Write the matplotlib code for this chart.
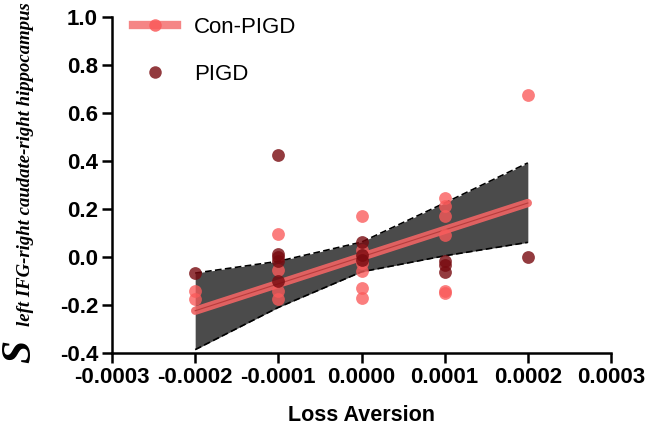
import matplotlib
matplotlib.use('Agg')
import matplotlib.pyplot as plt
from matplotlib.lines import Line2D
from matplotlib.ticker import FormatStrFormatter, MultipleLocator

plt.rcParams['font.family'] = ['Liberation Sans', 'DejaVu Sans']
plt.rcParams['axes.unicode_minus'] = False

# Con-PIGD points (Loss Aversion, S)
con_x = [-0.0002, -0.0002,
         -0.0001, -0.0001, -0.0001, -0.0001,
         0.0, 0.0, 0.0, 0.0, 0.0, 0.0,
         0.0001, 0.0001, 0.0001, 0.0001, 0.0001, 0.0001,
         0.0002]
con_y = [-0.140, -0.174,
         0.097, -0.053, -0.143, -0.174,
         0.170, 0.030, -0.025, -0.057, -0.129, -0.171,
         0.246, 0.211, 0.170, 0.090, -0.140, -0.150,
         0.675]

# PIGD points
pigd_x = [-0.0002,
          -0.0001, -0.0001, -0.0001, -0.0001, -0.0001,
          0.0, 0.0, 0.0,
          0.0001, 0.0001, 0.0001,
          0.0002]
pigd_y = [-0.067,
          0.424, 0.0125, -0.001, -0.017, -0.100,
          0.062, 0.010, -0.011,
          -0.015, -0.035, -0.062,
          0.000]

# regression line and 95% band
fit_x = [-0.0002, 0.0002]
fit_y = [-0.224, 0.225]
band_x = [-0.0002, -0.0001, 0.0, 0.0001, 0.0002]
band_upper = [-0.067, -0.018, 0.062, 0.225, 0.392]
band_lower = [-0.386, -0.210, -0.062, 0.005, 0.061]

pink = '#fa5a5a'
dark = '#780a0f'

fig = plt.figure(figsize=(6.47, 4.38), dpi=100)
ax = fig.add_axes([112 / 647, 85 / 438, 499 / 647, 336 / 438])

ax.fill_between(band_x, band_lower, band_upper, color='#4b4b4b', lw=0, zorder=1)
ax.plot(band_x, band_upper, color='black', lw=1.2, ls=(0, (4, 2)), zorder=2)
ax.plot(band_x, band_lower, color='black', lw=1.2, ls=(0, (4, 2)), zorder=2)

ax.plot(fit_x, fit_y, color='#f06464', lw=6, alpha=0.9, solid_capstyle='round', zorder=3)
ax.plot(fit_x, fit_y, color='#b83c3c', lw=0.8, zorder=3)

ax.scatter(con_x, con_y, s=85, color=pink, alpha=0.78, lw=0, zorder=4)
ax.scatter(pigd_x, pigd_y, s=85, color=dark, alpha=0.8, lw=0, zorder=5)

ax.set_xlim(-0.0003, 0.0003)
ax.set_ylim(-0.4, 1.0)
ax.xaxis.set_major_locator(MultipleLocator(0.0001))
ax.yaxis.set_major_locator(MultipleLocator(0.2))
ax.xaxis.set_major_formatter(FormatStrFormatter('%.4f'))
ax.yaxis.set_major_formatter(FormatStrFormatter('%.1f'))

for side in ['top', 'right']:
    ax.spines[side].set_visible(False)
for side in ['left', 'bottom']:
    ax.spines[side].set_linewidth(1.8)
ax.tick_params(width=1.8, length=7, direction='out', labelsize=16, pad=3)
for lab in ax.get_xticklabels() + ax.get_yticklabels():
    lab.set_fontweight('bold')

ax.set_xlabel('Loss Aversion', fontsize=15.5, fontweight='bold', labelpad=12)

# y label: big italic S with long italic subscript
fig.text(20 / 647, 1 - 351 / 438, 'S', rotation=90, fontsize=30, fontstyle='italic',
         fontweight='bold', family='Liberation Serif', ha='center', va='center')
fig.text(26 / 647, 1 - 164 / 438, 'left IFG-right caudate-right hippocampus', rotation=90,
         fontsize=13.5, fontstyle='italic', fontweight='bold', family='Liberation Serif',
         ha='center', va='center')

handles = [
    Line2D([], [], color='#f47070', lw=6, marker='o', markersize=9,
           markerfacecolor=pink, markeredgewidth=0, alpha=0.85),
    Line2D([], [], color='none', marker='o', markersize=9,
           markerfacecolor=dark, markeredgewidth=0, alpha=0.8),
]
fig.legend(handles, ['Con-PIGD', 'PIGD'], loc='upper left',
           bbox_to_anchor=(133 / 647, 1 - 17 / 438), frameon=False, fontsize=16,
           handlelength=2.0, handletextpad=0.75, labelspacing=1.15, borderpad=0,
           borderaxespad=0)

fig.savefig('out.png', dpi=100)
